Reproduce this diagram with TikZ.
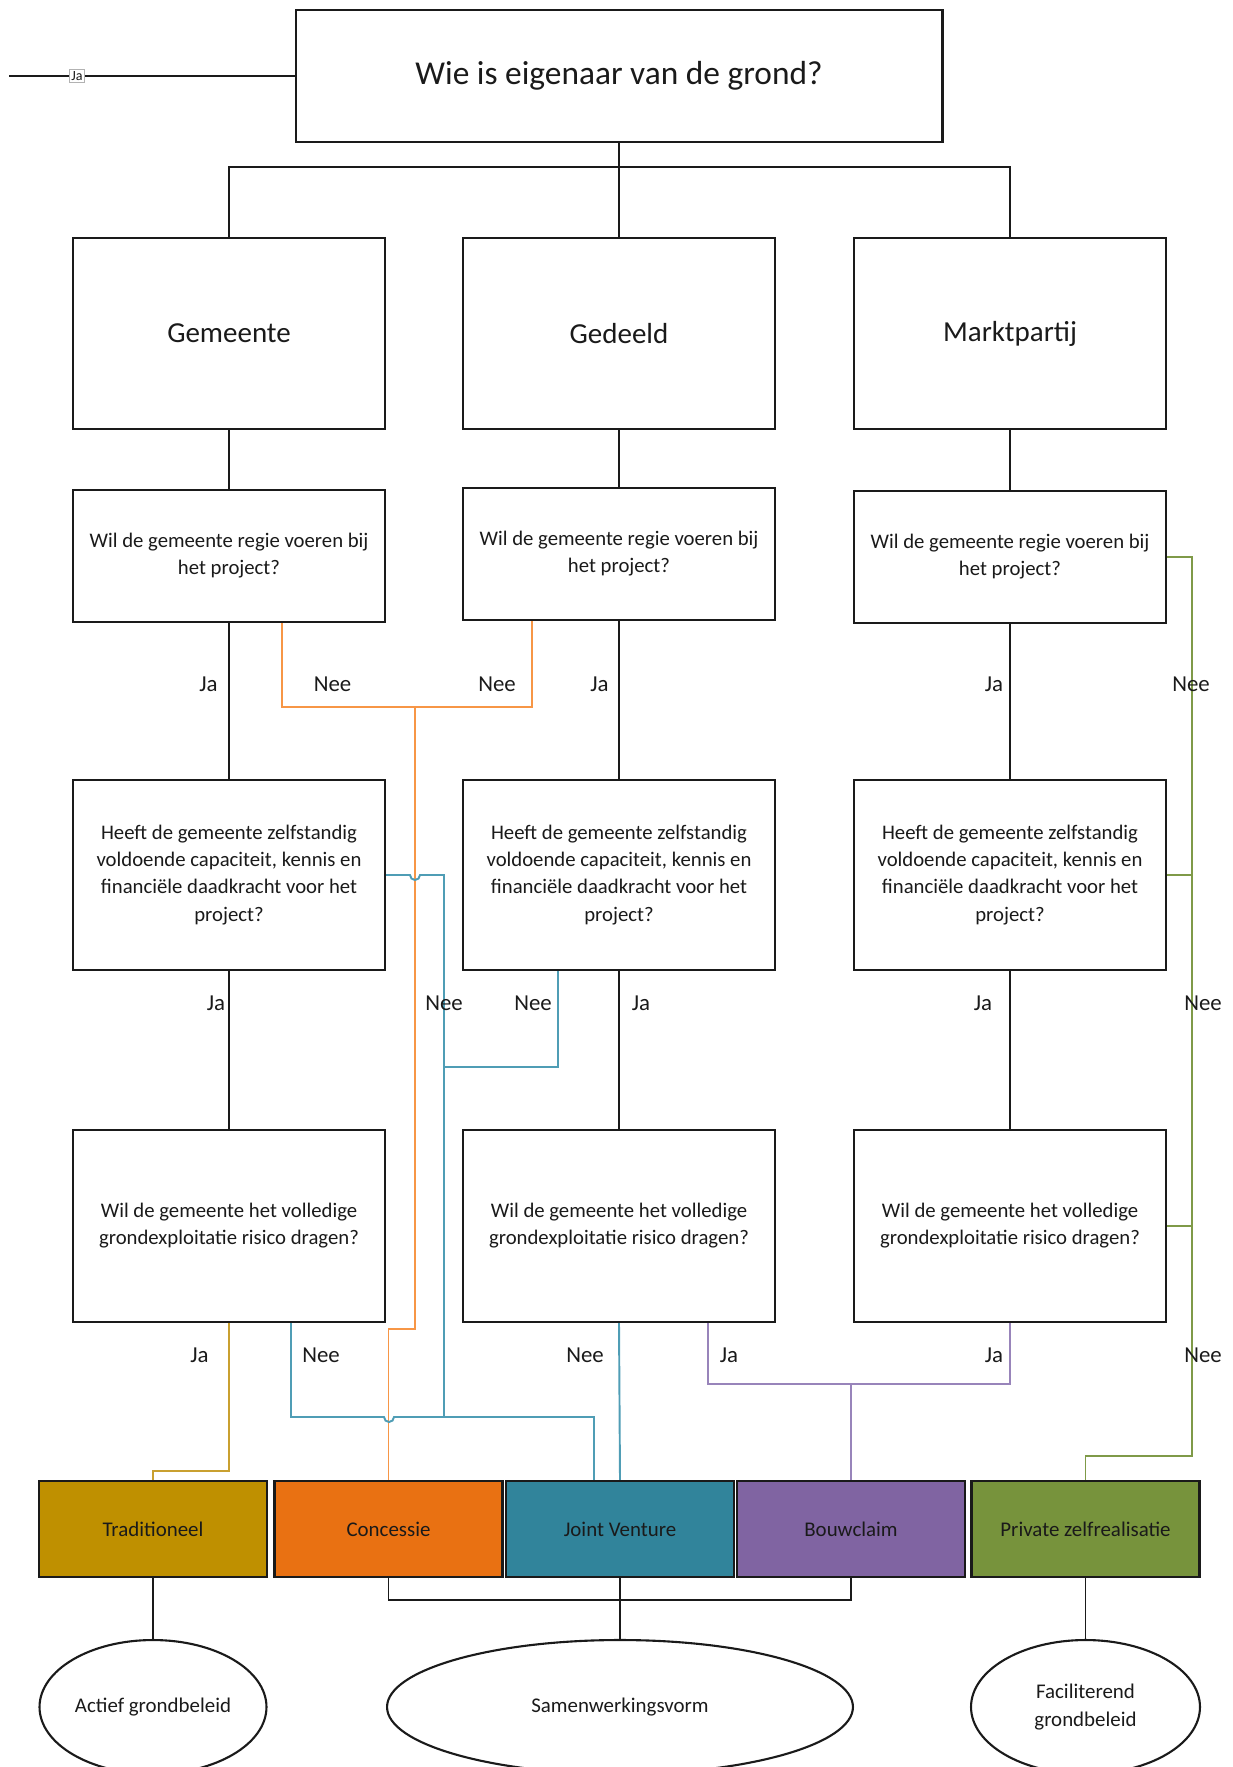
\documentclass[tikz,border=0pt]{standalone}
\usepackage{fontspec}
\setmainfont{Carlito}
\usetikzlibrary{calc,shapes.geometric}
\definecolor{cGold}{HTML}{BF9000}
\definecolor{cOrange}{HTML}{E97112}
\definecolor{cTeal}{HTML}{31849B}
\definecolor{cPurple}{HTML}{8064A2}
\definecolor{cGreen}{HTML}{77933C}
\definecolor{lGold}{HTML}{C9A030}
\definecolor{lOrange}{HTML}{F79646}
\definecolor{lTeal}{HTML}{4F9DB5}
\definecolor{lPurple}{HTML}{9884BA}
\definecolor{lGreen}{HTML}{7F9A48}
\definecolor{ink}{HTML}{1A1A1A}
\begin{document}
\begin{tikzpicture}[x=0.02cm,y=-0.02cm,
  box/.style={draw=ink, line width=1.2pt, rectangle, align=center, inner sep=2pt, text=ink},
  topbox/.style={box, minimum width=12.94cm, minimum height=2.64cm, font=\fontsize{19}{22}\selectfont},
  bigbox/.style={box, minimum width=6.24cm, minimum height=3.82cm, font=\fontsize{16.5}{20}\selectfont},
  qtwo/.style={box, minimum width=6.24cm, minimum height=2.64cm, font=\fontsize{11.8}{15.4}\selectfont},
  qthree/.style={box, minimum width=6.24cm, minimum height=3.8cm, font=\fontsize{11.8}{15.4}\selectfont},
  qfour/.style={box, minimum width=6.24cm, minimum height=3.84cm, font=\fontsize{11.8}{15.4}\selectfont},
  outbox/.style={box, minimum width=4.56cm, minimum height=1.92cm, font=\fontsize{11.9}{14}\selectfont},
  oval/.style={ellipse, draw=ink, line width=1.2pt, align=center, inner sep=0pt, text=ink, minimum height=2.68cm, font=\fontsize{11.9}{15.4}\selectfont},
  conn/.style={draw=ink, line width=1.1pt},
  oline/.style={draw=lOrange, line width=1.1pt},
  tline/.style={draw=lTeal, line width=1.1pt},
  gline/.style={draw=lGold, line width=1.1pt},
  pline/.style={draw=lPurple, line width=1.1pt},
  vline/.style={draw=lGreen, line width=1.1pt},
  lbl/.style={font=\fontsize{13}{15}\selectfont, text=ink, inner sep=0pt}
]
\useasboundingbox (0,0) rectangle (1233,1767);

% boxes
\node[topbox] (top) at (619,76) {Wie is eigenaar van de grond?};
\node[bigbox] (gem1) at (229,333.5) {Gemeente};
\node[bigbox] (ged1) at (619,333.5) {Gedeeld};
\node[bigbox] (mkt1) at (1010,333.5) {Marktpartij};

\node[qtwo] (gem2) at (229,556) {Wil de gemeente regie voeren bij\\het project?};
\node[qtwo] (ged2) at (619,554) {Wil de gemeente regie voeren bij\\het project?};
\node[qtwo] (mkt2) at (1010,557) {Wil de gemeente regie voeren bij\\het project?};

\node[qthree] (gem3) at (229,875) {Heeft de gemeente zelfstandig\\voldoende capaciteit, kennis en\\financiële daadkracht voor het\\project?};
\node[qthree] (ged3) at (619,875) {Heeft de gemeente zelfstandig\\voldoende capaciteit, kennis en\\financiële daadkracht voor het\\project?};
\node[qthree] (mkt3) at (1010,875) {Heeft de gemeente zelfstandig\\voldoende capaciteit, kennis en\\financiële daadkracht voor het\\project?};

\node[qfour] (gem4) at (229,1226) {Wil de gemeente het volledige\\grondexploitatie risico dragen?};
\node[qfour] (ged4) at (619,1226) {Wil de gemeente het volledige\\grondexploitatie risico dragen?};
\node[qfour] (mkt4) at (1010,1226) {Wil de gemeente het volledige\\grondexploitatie risico dragen?};

\node[outbox, fill=cGold] (trad) at (153,1529) {Traditioneel};
\node[outbox, fill=cOrange] (conc) at (388.5,1529) {Concessie};
\node[outbox, fill=cTeal] (jv) at (620,1529) {Joint Venture};
\node[outbox, fill=cPurple] (bouw) at (851,1529) {Bouwclaim};
\node[outbox, fill=cGreen] (priv) at (1085.5,1529) {Private zelfrealisatie};

\node[oval, minimum width=4.54cm] (actief) at (153,1707) {Actief grondbeleid};
\node[oval, minimum width=9.32cm] (samen) at (620,1707) {Samenwerkingsvorm};
\node[oval, minimum width=4.58cm] (facil) at (1085.5,1707) {Faciliterend\\grondbeleid};

% left stub with Ja
\coordinate (stub) at (9,76);
\draw[conn] (stub) -- (top.west);
\node[draw=black!30, line width=0.4pt, fill=white, inner sep=1pt, font=\fontsize{8}{9}\selectfont, text=ink] (jastub) at (77,76) {Ja};

% top tree
\draw[conn] (top.south) -- ++(0,24) -| (gem1.north);
\draw[conn] (top.south) ++(0,24) -| (mkt1.north);
\draw[conn] (top.south) -- (ged1.north);

% level 1 to 2
\draw[conn] (gem1.south) -- (gem2.north);
\draw[conn] (ged1.south) -- (ged2.north);
\draw[conn] (mkt1.south) -- (mkt2.north);

% level 2 to 3 (Ja)
\draw[conn] (gem2.south) -- (gem3.north);
\draw[conn] (ged2.south) -- (ged3.north);
\draw[conn] (mkt2.south) -- (mkt3.north);

% level 3 to 4 (Ja)
\draw[conn] (gem3.south) -- (gem4.north);
\draw[conn] (ged3.south) -- (ged4.north);
\draw[conn] (mkt3.south) -- (mkt4.north);

% orange (Concessie)
\coordinate (oj) at (415,707);
\draw[oline] ($(gem2.south)+(53,0)$) |- (oj) -| ($(ged2.south)+(-87,0)$);
\draw[oline] (oj) |- ($(conc.north)+(0,-151)$) -- (conc.north);

% teal (Joint Venture)
\coordinate (tj) at (444,1417);
\coordinate (tv) at (444,1067);
\draw[tline] (gem3.east) -- (410,875) arc[start angle=180, end angle=0, radius=5] -- (444,875) -- (tj);
\draw[tline] ($(ged3.south)+(-61,0)$) |- (tv);
\draw[tline] ($(gem4.south)+(62,0)$) |- (384,1417) arc[start angle=180, end angle=0, radius=5] -- (tj) -| ($(jv.north)+(-26,0)$);
\draw[tline] (ged4.south) -- (jv.north);

% gold (Traditioneel)
\draw[gline] (gem4.south) -- ++(0,148) -| (trad.north);

% purple (Bouwclaim)
\coordinate (pj) at (851,1384);
\draw[pline] ($(ged4.south)+(89,0)$) |- (pj) -| (mkt4.south);
\draw[pline] (pj) -- (bouw.north);

% green (Private zelfrealisatie)
\coordinate (gtop) at (1192,557);
\draw[vline] (mkt2.east) -- (gtop) |- ($(priv.north)+(0,-24)$) -- (priv.north);
\draw[vline] (mkt3.east) -- (1192,875);
\draw[vline] (mkt4.east) -- (1192,1226);

% bottom
\draw[conn] (conc.south) -- ++(0,22) -| (bouw.south);
\draw[conn] (jv.south) -- (samen.north);
\draw[conn] (trad.south) -- (actief.north);
\draw[conn] (priv.south) -- (facil.north);

% labels row 1
\node[lbl] (l1a) at (208.5,684) {Ja};
\node[lbl] (l1b) at (332.5,684) {Nee};
\node[lbl] (l1c) at (497,684) {Nee};
\node[lbl] (l1d) at (599.5,684) {Ja};
\node[lbl] (l1e) at (994,684) {Ja};
\node[lbl] (l1f) at (1191,684) {Nee};
% labels row 2
\node[lbl] (l2a) at (216,1003) {Ja};
\node[lbl] (l2b) at (444,1003) {Nee};
\node[lbl] (l2c) at (533,1003) {Nee};
\node[lbl] (l2d) at (641,1003) {Ja};
\node[lbl] (l2e) at (983,1003) {Ja};
\node[lbl] (l2f) at (1203,1003) {Nee};
% labels row 3
\node[lbl] (l3a) at (199.5,1355) {Ja};
\node[lbl] (l3b) at (321,1355) {Nee};
\node[lbl] (l3c) at (585,1355) {Nee};
\node[lbl] (l3d) at (729,1355) {Ja};
\node[lbl] (l3e) at (994,1355) {Ja};
\node[lbl] (l3f) at (1203,1355) {Nee};
\end{tikzpicture}
\end{document}
